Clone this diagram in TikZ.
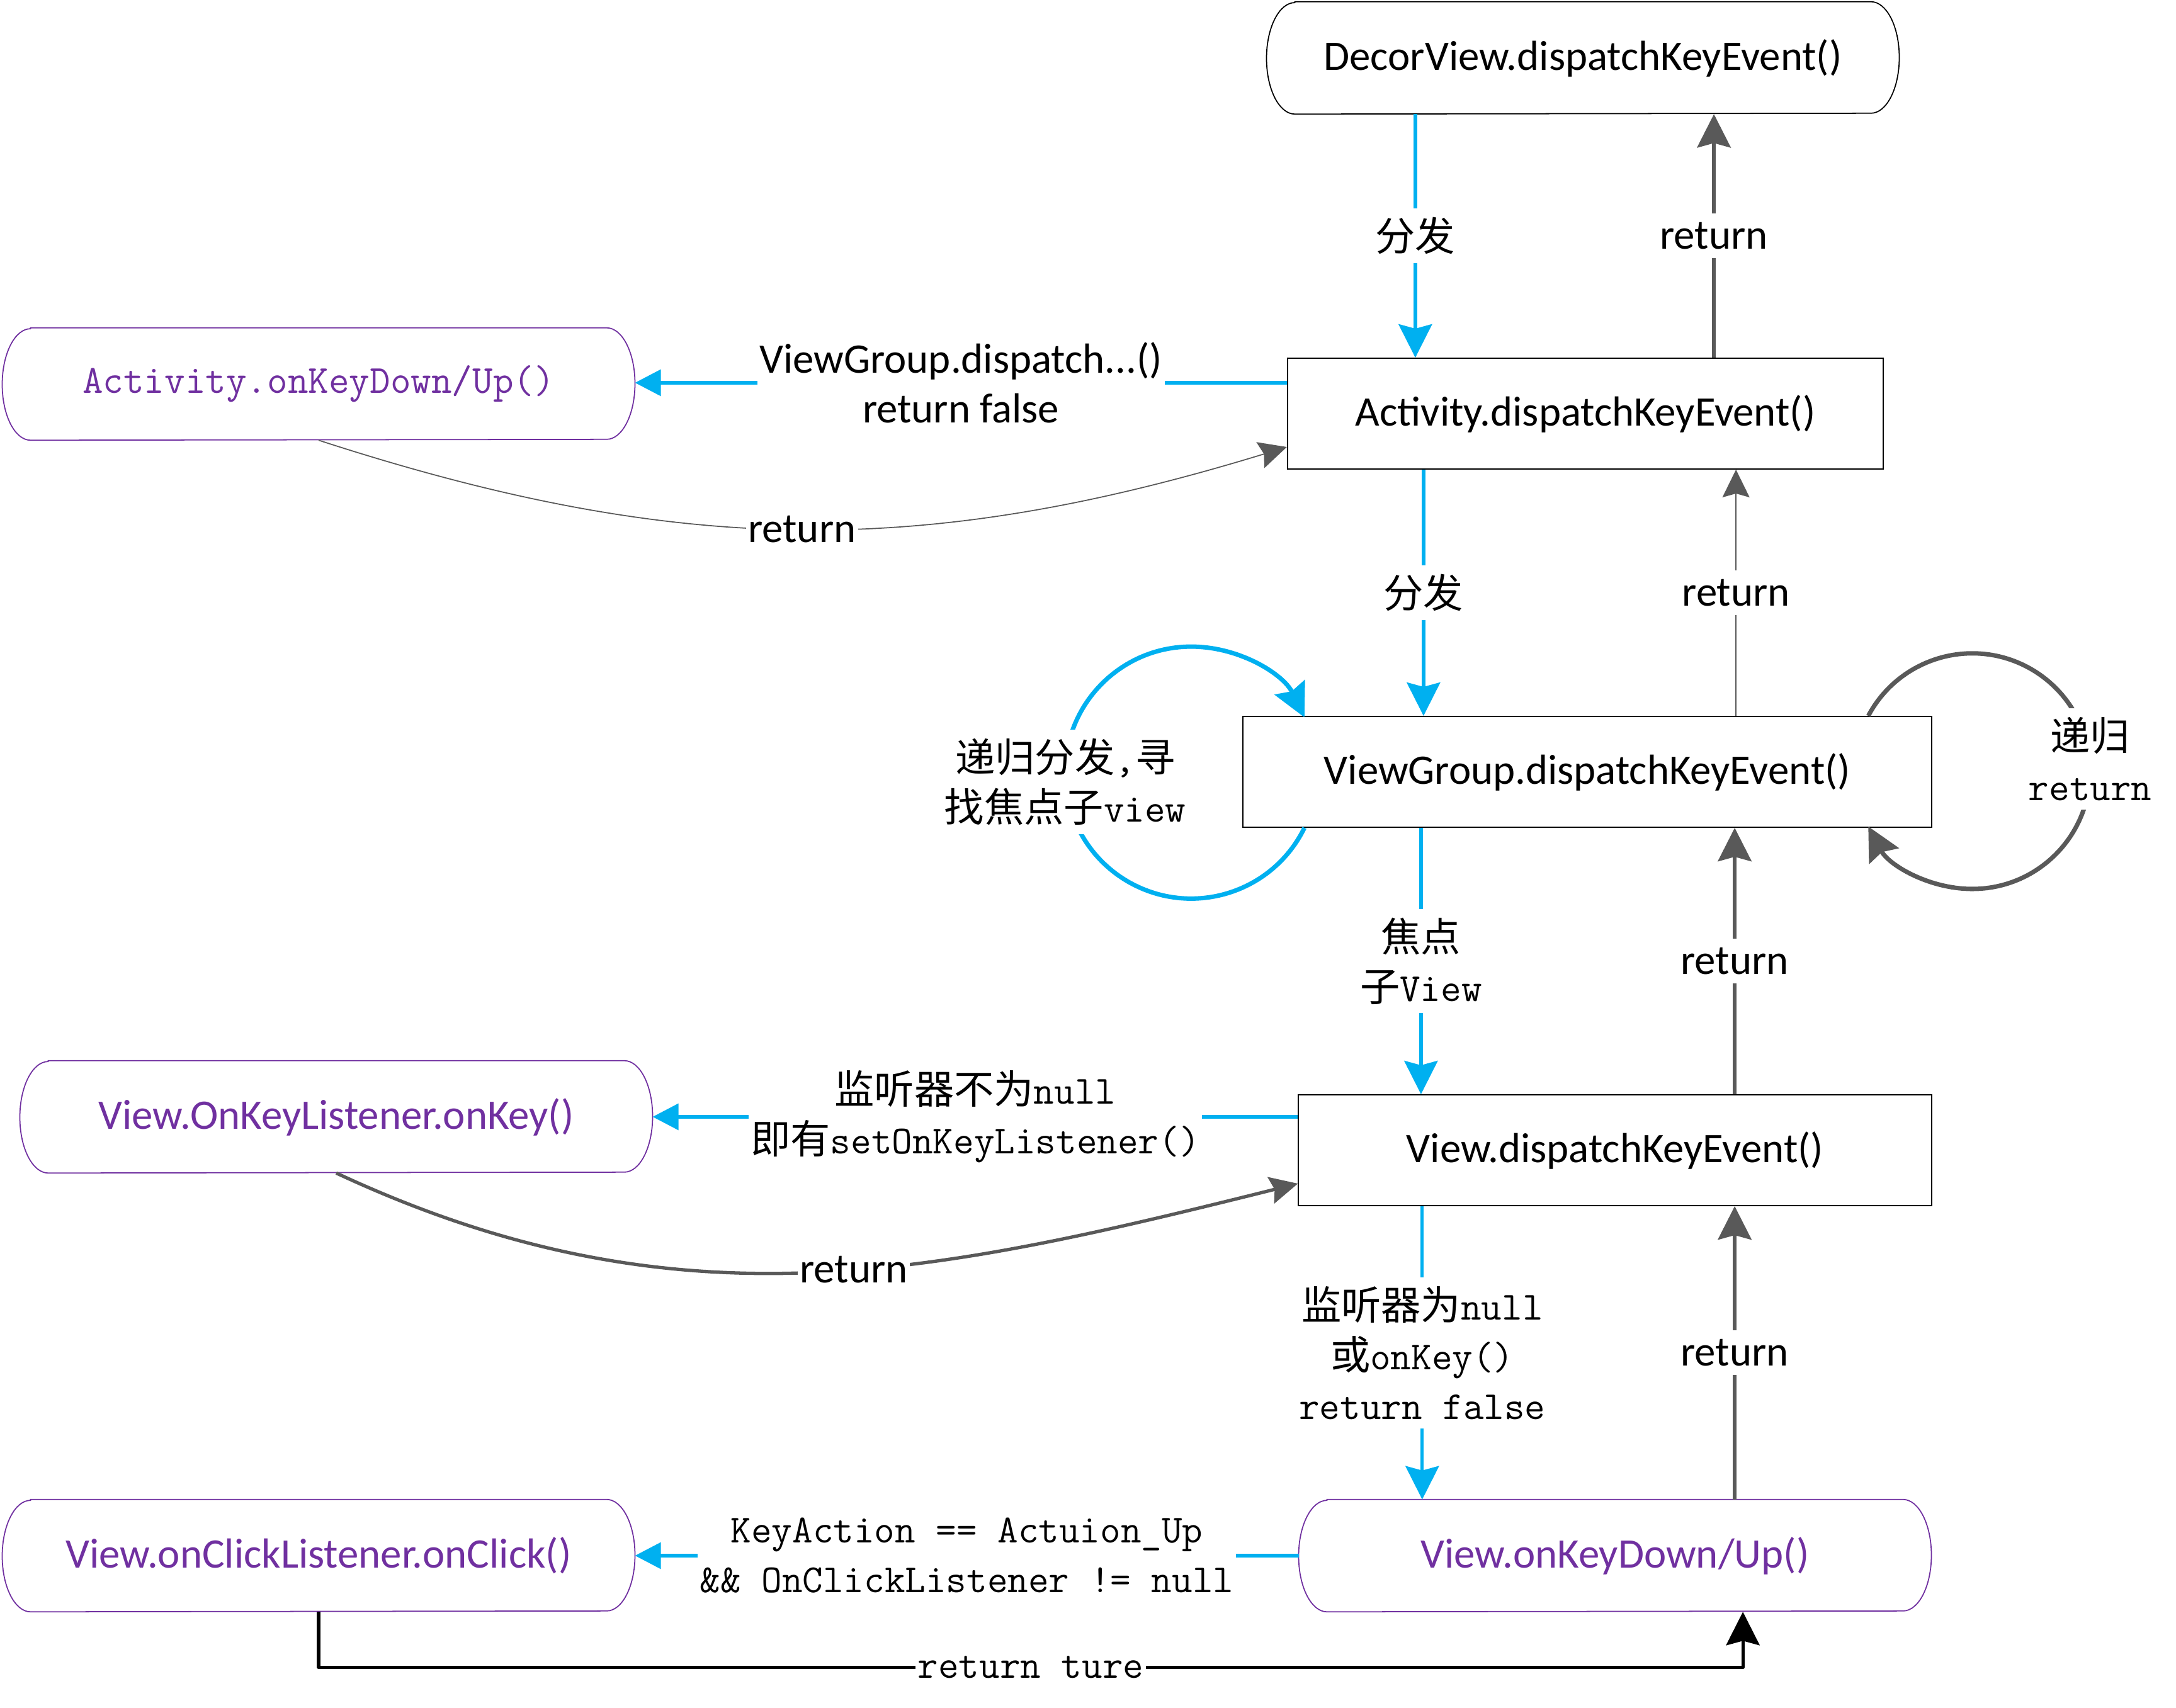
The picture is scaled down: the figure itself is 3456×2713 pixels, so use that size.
\documentclass[tikz,border=0pt]{standalone}
\usepackage{fontspec}
\setmainfont{Carlito}
\newfontfamily\zhfont{Noto Sans CJK SC}
\usetikzlibrary{arrows.meta,calc}

\definecolor{flowblue}{HTML}{00B0F0}
\definecolor{retgray}{HTML}{595959}
\definecolor{apppurple}{HTML}{7030A0}

% Chinese words inside mixed labels
\newcommand{\zh}[1]{{\zhfont #1}}

\tikzset{
  latinfont/.style={font=\fontsize{19}{22.4}\selectfont},
  monofont/.style={font=\fontsize{18}{22.5}\selectfont\ttfamily},
  % rectangular dispatch stages
  procbox/.style={rectangle, draw=black, line width=0.5pt, minimum width=#1,
    minimum height=1.76cm, inner sep=0pt, latinfont},
  % terminal / callback capsules with half-ellipse ends
  capsule/.style={rectangle, inner sep=0pt, minimum width=10.03cm,
    minimum height=1.77cm, latinfont,
    append after command={\pgfextra{\draw[line width=0.5pt, draw=#1]
      ([xshift=0.45cm]\tikzlastnode.north west)
      -- ([xshift=-0.45cm]\tikzlastnode.north east)
      arc[start angle=90, end angle=-90, x radius=0.45cm, y radius=0.885cm]
      -- ([xshift=0.45cm]\tikzlastnode.south west)
      arc[start angle=270, end angle=90, x radius=0.45cm, y radius=0.885cm]
      -- cycle;}}},
  termbox/.style={capsule=black},
  callbox/.style={capsule=apppurple, text=apppurple},
  % connectors
  bigtip/.style={-{Stealth[length=5.3mm, width=5.3mm, inset=0.7mm]}},
  thintip/.style={-{Stealth[length=4.4mm, width=4.3mm, inset=0.6mm]}},
  flow/.style={draw=flowblue, line width=1.5pt, bigtip},
  sideflow/.style={draw=flowblue, line width=1.7pt, -{Triangle[length=4.1mm, width=4.1mm]}},
  loopflow/.style={draw=flowblue, line width=2pt, bigtip},
  back/.style={draw=retgray, line width=1.9pt, bigtip},
  backthin/.style={draw=retgray, line width=0.5pt, thintip},
  loopback/.style={draw=retgray, line width=2pt, bigtip},
  backcurve/.style={draw=retgray, line width=1.5pt, thintip},
  clickback/.style={draw=black, line width=1.5pt, line join=round, bigtip},
  lbl/.style={fill=white, inner xsep=1pt, inner ysep=4pt, align=center},
}

\begin{document}
\begin{tikzpicture}[x=0.01cm, y=0.01cm]
\useasboundingbox (0,0) rectangle (3456,-2713);

% ---- stages ----
\node[termbox] (decor) at (2514,-92) {DecorView.dispatchKeyEvent()};
\node[procbox=9.46cm] (actd) at (2518,-657) {Activity.dispatchKeyEvent()};
\node[callbox, monofont] (actk) at (506,-610) {Activity.onKeyDown/Up()};
\node[procbox=10.93cm] (vg) at (2521,-1226) {ViewGroup.dispatchKeyEvent()};
\node[procbox=10.05cm] (vd) at (2565,-1827) {View.dispatchKeyEvent()};
\node[callbox] (onkey) at (534,-1774) {View.OnKeyListener.onKey()};
\node[callbox] (vk) at (2565,-2471) {View.onKeyDown/Up()};
\node[callbox] (click) at (506,-2471) {View.onClickListener.onClick()};

% ---- downward dispatch ----
\draw[flow] ([xshift=-2.66cm]decor.south) coordinate (d1)
  -- (d1 |- actd.north) node[midway, lbl, font=\fontsize{18}{22.5}\selectfont\zhfont] {分发};
\draw[flow] ([xshift=-2.57cm]actd.south) coordinate (d2)
  -- (d2 |- vg.north) node[midway, lbl, font=\fontsize{18}{22.5}\selectfont\zhfont] {分发};
\draw[flow] ([xshift=-2.64cm]vg.south) coordinate (d3)
  -- (d3 |- vd.north) node[midway, lbl, monofont] {\zh{焦点}\\\zh{子}View};
\draw[flow] ([xshift=-3.06cm]vd.south) coordinate (d4)
  -- (d4 |- vk.north) node[midway, lbl, monofont] {\zh{监听器为}null\\\zh{或}onKey()\\return false};

% ---- upward returns ----
\draw[back] ([xshift=2.04cm]actd.north) coordinate (u1)
  -- (u1 |- decor.south) node[midway, lbl, latinfont] {return};
\draw[backthin] ([xshift=2.36cm]vg.north) coordinate (u2)
  -- (u2 |- actd.south) node[midway, lbl, latinfont] {return};
\draw[back] ([xshift=1.90cm]vd.north) coordinate (u3)
  -- (u3 |- vg.south) node[midway, lbl, latinfont] {return};
\draw[back] ([xshift=1.90cm]vk.north) coordinate (u4)
  -- (u4 |- vd.south) node[midway, lbl, latinfont] {return};

% ---- side branches ----
\draw[sideflow] ([yshift=0.49cm]actd.west) coordinate (s1)
  -- (s1 -| actk.east) node[midway, lbl, latinfont] {ViewGroup.dispatch...()\\return false};
\draw[sideflow] ([yshift=0.53cm]vd.west) coordinate (s2)
  -- (s2 -| onkey.east) node[midway, lbl, monofont] {\zh{监听器不为}null\\\zh{即有}setOnKeyListener()};
\draw[sideflow] (vk.west) -- (click.east)
  node[midway, lbl, monofont] {KeyAction == Actuion\_Up\\\&\& OnClickListener != null};

% ---- returns from side branches ----
\draw[backthin] (actk.south) to[out=-18, in=197]
  node[pos=0.5, lbl, latinfont] {return} ([yshift=-0.53cm]actd.west);
\draw[backcurve] (onkey.south) to[out=-25, in=194]
  node[pos=0.55, lbl, latinfont] {return} ([yshift=-0.53cm]vd.west);
\draw[clickback] (click.south) -- ++(0,-88) -| ([xshift=2.03cm]vk.south)
  node[pos=0.25, lbl, monofont] {return ture};

% ---- recursion loops around the ViewGroup ----
\draw[loopflow] ([xshift=-4.49cm]vg.south)
  arc[start angle=-26, end angle=-180, radius=2cm]
  node[lbl, monofont, yshift=-0.15cm] {\zh{递归分发},\zh{寻}\\\zh{找焦点子}view}
  arc[start angle=-180, end angle=-334, radius=2cm];
\draw[loopback] ([xshift=4.46cm]vg.north)
  arc[start angle=152, end angle=0, radius=1.87cm]
  node[lbl, monofont, yshift=0.19cm] {\zh{递归}\\return}
  arc[start angle=0, end angle=-152, radius=1.87cm];
\end{tikzpicture}
\end{document}
